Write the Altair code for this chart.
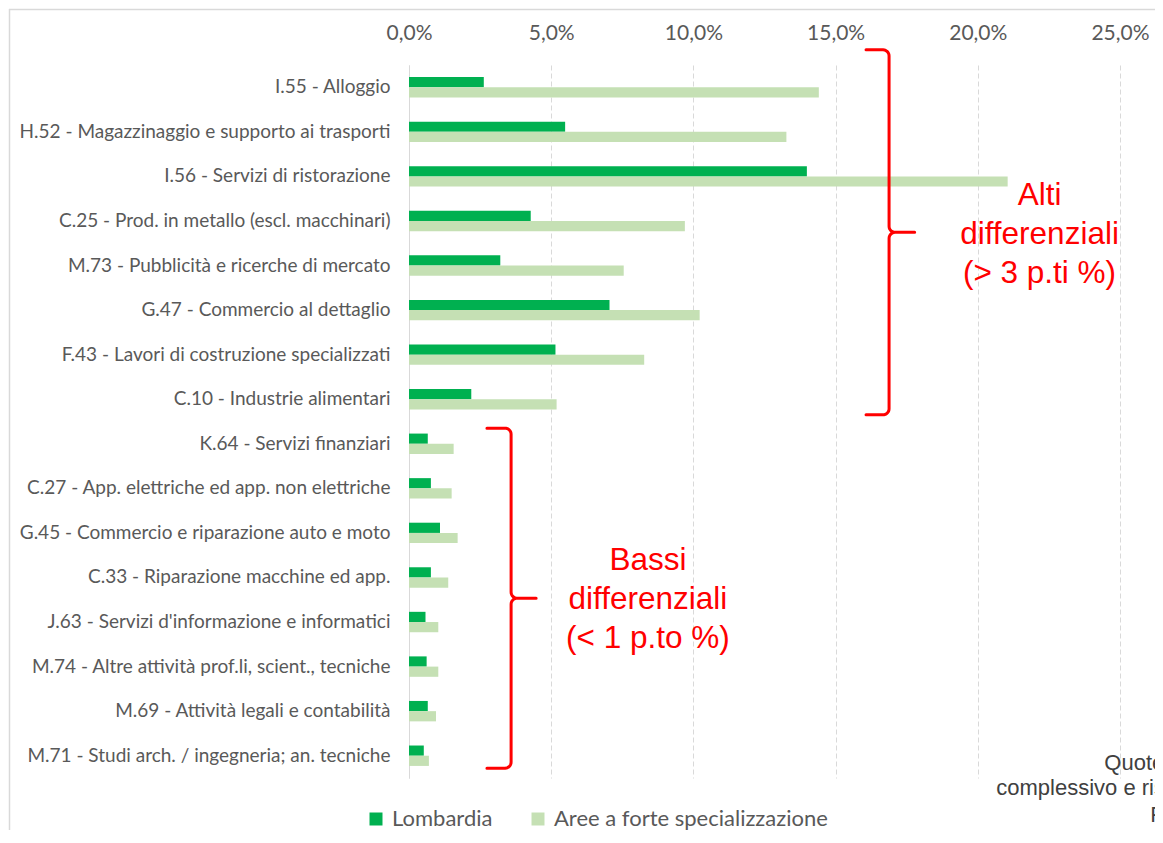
import altair as alt
import pandas as pd
import numpy as np

categories = [
    "I.55 - Alloggio",
    "H.52 - Magazzinaggio e supporto ai trasporti",
    "I.56 - Servizi di ristorazione",
    "C.25 - Prod. in metallo (escl. macchinari)",
    "M.73 - Pubblicità e ricerche di mercato",
    "G.47 - Commercio al dettaglio",
    "F.43 - Lavori di costruzione specializzati",
    "C.10 - Industrie alimentari",
    "K.64 - Servizi finanziari",
    "C.27 - App. elettriche ed app. non elettriche",
    "G.45 - Commercio e riparazione auto e moto",
    "C.33 - Riparazione macchine ed app.",
    "J.63 - Servizi d'informazione e informatici",
    "M.74 - Altre attività prof.li, scient., tecniche",
    "M.69 - Attività legali e contabilità",
    "M.71 - Studi arch. / ingegneria; an. tecniche",
]
series = ["Lombardia", "Aree a forte specializzazione"]
lombardia = [2.63, 5.49, 13.99, 4.28, 3.21, 7.05, 5.15, 2.19,
             0.66, 0.77, 1.09, 0.77, 0.58, 0.62, 0.66, 0.52]
aree = [14.41, 13.27, 21.05, 9.70, 7.55, 10.22, 8.27, 5.19,
        1.57, 1.50, 1.71, 1.38, 1.03, 1.03, 0.95, 0.70]
x_ticks = [0.0, 0.05, 0.10, 0.15, 0.20, 0.25]
colors = ["#00b050", "#c5e0b4"]

# annotation groups (brace: vertical x, top row, bottom row, left end x, tip x)
brace_names = ["alti", "bassi"]
brace_xv = [0.1688, 0.0359]
brace_top = [-0.34, 8.15]
brace_bot = [7.85, 15.78]
brace_left = [0.1607, 0.0274]
brace_tip = [0.1778, 0.0447]

annot_text = ["Alti\ndifferenziali\n(> 3 p.ti %)", "Bassi\ndifferenziali\n(< 1 p.to %)"]
annot_x = [0.2217, 0.084]
annot_row = [2.94, 11.12]

note_text = ["Quote % sul totale", "complessivo e rispettive aree", "Prov."]
note_x = [0.2445, 0.2065, 0.2606]
note_row = [15.66, 16.22, 16.83]

W, H = 711, 713
NROWS = len(categories)

rows = []
for i, c in enumerate(categories):
    rows.append({"cat": c, "serie": series[0], "val": lombardia[i] / 100})
    rows.append({"cat": c, "serie": series[1], "val": aree[i] / 100})
df = pd.DataFrame(rows)


def brace_points(name, xv, yt, yb, xl, xt, r=6.0, steps=8):
    sx = W / 0.25
    sy = H / NROWS
    X, T, B, L, TIP = xv * sx, yt * sy, yb * sy, xl * sx, xt * sx
    M = (T + B) / 2
    pts = [(L, T)]

    def arc(cx, cy, a0, a1):
        for a in np.linspace(np.radians(a0), np.radians(a1), steps):
            pts.append((cx + r * np.cos(a), cy - r * np.sin(a)))

    arc(X - r, T + r, 90, 0)
    arc(X + r, M - r, 180, 270)
    pts.append((TIP, M))
    arc(X + r, M + r, 90, 180)
    arc(X - r, B - r, 0, -90)
    pts.append((L, B))
    return [{"brace": name, "i": k, "x": px / sx, "row": py / sy}
            for k, (px, py) in enumerate(pts)]


bdata = []
for j in range(len(brace_names)):
    bdata += brace_points(brace_names[j], brace_xv[j], brace_top[j], brace_bot[j],
                          brace_left[j], brace_tip[j])
bdf = pd.DataFrame(bdata)

adf = pd.DataFrame({"t": annot_text, "x": annot_x, "row": annot_row})
ndf = pd.DataFrame({"t": note_text, "x": note_x, "row": note_row})

xscale = alt.Scale(domain=[0, 0.25], nice=False, zero=True)
yrow = alt.Scale(domain=[0, NROWS], reverse=True, nice=False, zero=False)

bars = alt.Chart(df).mark_bar().encode(
    x=alt.X("val:Q", scale=xscale, axis=alt.Axis(
        orient="top", values=x_ticks, title=None,
        labelExpr="replace(format(datum.value, '.1%'), '.', ',')",
        grid=True, gridDash=[5, 3], gridColor="#d9d9d9", gridWidth=1,
        domain=False, ticks=False, tickSize=0, labelPadding=22, labelFlush=False,
        labelFontSize=21, labelFont="Lato", labelColor="#595959")),
    y=alt.Y("cat:N", sort=categories,
            scale=alt.Scale(paddingInner=0.542, paddingOuter=0.271),
            axis=alt.Axis(title=None, ticks=False, tickSize=0, domain=True,
                          domainColor="#d9d9d9", domainWidth=1, labelPadding=19,
                          labelFontSize=19, labelFont="Lato", labelColor="#595959",
                          labelLimit=600, grid=False)),
    yOffset=alt.YOffset("serie:N", sort=series,
                        scale=alt.Scale(paddingInner=0, paddingOuter=0)),
    color=alt.Color("serie:N", sort=series,
                    scale=alt.Scale(domain=series, range=colors),
                    legend=alt.Legend(
                        orient="none", legendX=-44, legendY=743,
                        direction="horizontal", title=None, symbolType="square",
                        symbolSize=169, symbolStrokeWidth=0, labelFontSize=22,
                        labelFont="Lato", labelColor="#595959", labelOffset=5,
                        labelLimit=500, columnPadding=34)),
)

braces = alt.Chart(bdf).mark_line(
    color="#ff0000", strokeWidth=3, strokeJoin="round", strokeCap="round"
).encode(
    x=alt.X("x:Q", scale=xscale),
    y=alt.Y("row:Q", scale=yrow, axis=None),
    order="i:Q",
    detail="brace:N",
)

annots = alt.Chart(adf).mark_text(
    color="#ff0000", font="Liberation Sans", fontSize=31.5, lineHeight=39,
    lineBreak="\n", align="center", baseline="middle"
).encode(
    x=alt.X("x:Q", scale=xscale),
    y=alt.Y("row:Q", scale=yrow, axis=None),
    text="t:N",
)

notes = alt.Chart(ndf).mark_text(
    color="#404040", font="Liberation Sans", fontSize=22,
    align="left", baseline="middle"
).encode(
    x=alt.X("x:Q", scale=xscale),
    y=alt.Y("row:Q", scale=yrow, axis=None),
    text="t:N",
)

frame_df = pd.DataFrame({"k": [0]})
frame_top = alt.Chart(frame_df).mark_rule(color="#d9d9d9", strokeWidth=1.5).encode(
    x=alt.value(-400), x2=alt.value(W + 60), y=alt.value(-55.5))
frame_left = alt.Chart(frame_df).mark_rule(color="#d9d9d9", strokeWidth=1.5).encode(
    x=alt.value(-399.5), y=alt.value(-56), y2=alt.value(H + 60))

chart = alt.layer(bars, braces, annots, notes, frame_top, frame_left).resolve_scale(
    y="independent"
).properties(
    width=W, height=H,
    autosize=alt.AutoSizeParams(type="none"),
    padding={"left": 401, "top": 57, "right": 35, "bottom": 52},
    background="white",
).configure_view(stroke=None)

chart.save("out.html", embed_options={"renderer": "svg", "actions": False})
